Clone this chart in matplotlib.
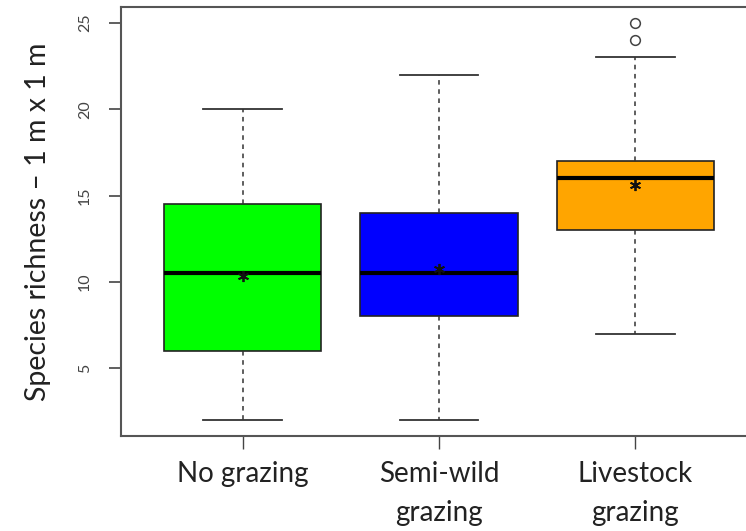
import matplotlib
matplotlib.use("Agg")
import matplotlib.pyplot as plt

categories = ["No grazing", "Semi-wild\ngrazing", "Livestock\ngrazing"]
whisker_low = [2, 2, 7]
q1 = [6, 8, 13]
median = [10.5, 10.5, 16]
q3 = [14.5, 14, 17]
whisker_high = [20, 22, 23]
means = [10.35, 10.75, 15.6]
outliers = [[], [], [24, 25]]
colors = ["#00FF00", "#0000FF", "#FFA500"]
yticks = [5, 10, 15, 20, 25]

plt.rcParams['font.family'] = ['Lato', 'DejaVu Sans']

fig = plt.figure(figsize=(7.46, 5.31), dpi=100)
ax = fig.add_axes([121/746, (531-436)/531, (757-121)/746, (436-7)/531])

stats = []
for i in range(3):
    stats.append(dict(med=median[i], q1=q1[i], q3=q3[i], whislo=whisker_low[i],
                      whishi=whisker_high[i], fliers=outliers[i], label=categories[i]))

pos = [1, 2, 3]
bp = ax.bxp(stats, positions=pos, widths=0.8, patch_artist=True, showfliers=True,
            boxprops=dict(edgecolor="#222222", linewidth=1.2),
            medianprops=dict(color="black", linewidth=3),
            whiskerprops=dict(color="#333333", linestyle=(0, (3, 3)), linewidth=1.1),
            capprops=dict(color="#333333", linewidth=1.3),
            flierprops=dict(marker='o', markerfacecolor='none', markeredgecolor='#444444',
                            markersize=7, markeredgewidth=1.1))
for patch, c in zip(bp['boxes'], colors):
    patch.set_facecolor(c)
for ln in bp['caps']:
    x = ln.get_xdata()
    c = (x[0] + x[1]) / 2
    ln.set_xdata([c - 0.2, c + 0.2])

ax.plot(pos, means, linestyle='none', marker=(6, 2, 0), color='#111111', markersize=8,
        markeredgewidth=1.3, zorder=5)

ax.set_xlim(0.38, 3.62)
ax.set_ylim(1.08, 25.92)
ax.set_yticks(yticks)
ax.set_yticklabels([str(v) for v in yticks], rotation=90, va='center', fontsize=11.5, color='#444444')
ax.set_xticks(pos)
ax.set_xticklabels(categories, fontsize=20, color='#222222', linespacing=1.6)
ax.tick_params(axis='y', length=9, width=1.2, color='#444444', pad=12)
ax.tick_params(axis='x', length=9, width=1.0, color='#444444', pad=9)
ax.set_ylabel("Species richness – 1 m x 1 m", fontsize=20.5, color='#222222', labelpad=19)
for s in ['left', 'bottom', 'top']:
    ax.spines[s].set_color('#555555')
    ax.spines[s].set_linewidth(1.5)
ax.spines['right'].set_visible(False)

fig.savefig("out.png", dpi=100)
